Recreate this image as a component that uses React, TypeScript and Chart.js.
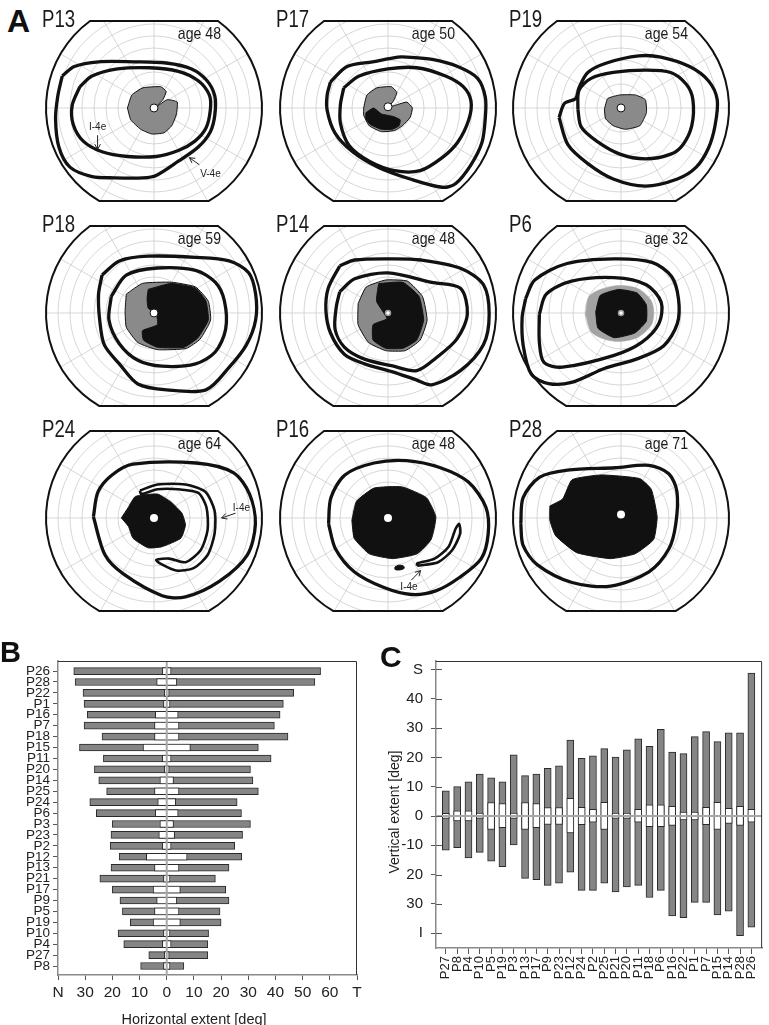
import React, { useEffect, useRef } from 'react';
import { Chart, registerables } from 'chart.js';

Chart.register(...registerables);

type Pt = [number, number];
const FONT = '"Liberation Sans", Arial, Helvetica, sans-serif';
Chart.defaults.font.family = FONT;
Chart.defaults.color = '#222';

// ---------------- Panel A data (visual field isopters, degrees) ----------------
const plotNames = ['P13', 'P17', 'P19', 'P18', 'P14', 'P6', 'P24', 'P16', 'P28'];
const plotAges = [48, 50, 54, 59, 48, 32, 64, 48, 71];

const p13Outer: Pt[] = [[-83, 27], [-72, 35], [-50, 39], [-18, 39], [11, 38], [34, 33], [48, 23], [55, 10], [55, -6], [51, -20], [40, -33], [22, -45], [2, -57], [-10, -59], [-36, -59], [-56, -58], [-76, -50], [-86, -33], [-89, -9], [-87, 10]];
const p13Inner: Pt[] = [[-67, 18], [-56, 27], [-33, 33], [-4, 34], [22, 31], [40, 23], [50, 11], [51, -1], [47, -17], [37, -28], [22, -36], [2, -41], [-24, -41], [-47, -37], [-64, -28], [-73, -14], [-74, 2]];
const p13Gray: Pt[] = [[-24, 0], [-20, 11], [-10, 17], [6, 18], [11, 14], [8, 7], [2, 1], [12, 7], [21, 5], [20, -6], [16, -15], [9, -21], [-2, -22], [-12, -18], [-21, -10]];

const p17Outer: Pt[] = [[-52, 22], [-37, 35], [-14, 39], [9, 43], [17, 43], [40, 41], [63, 35], [81, 25], [88, 9], [88, -8], [85, -29], [75, -48], [61, -64], [49, -67], [20, -60], [-9, -50], [-32, -37], [-48, -21], [-55, -2], [-55, 11]];
const p17Inner: Pt[] = [[-40, 17], [-26, 27], [0, 33], [26, 34], [52, 27], [68, 18], [75, 6], [73, -10], [63, -29], [49, -42], [29, -53], [6, -53], [-17, -45], [-35, -32], [-43, -13], [-43, 3]];
const p17Gray: Pt[] = [[-22, 0], [-19, 11], [-10, 17], [3, 18], [8, 13], [5, 6], [1, 1], [9, 3], [17, 5], [22, 0], [20, -8], [13, -15], [6, -19], [-6, -20], [-17, -15], [-22, -6]];
const p17Black: Pt[] = [[-20, -4], [-13, 0], [-6, -5], [4, -7], [11, -10], [10, -15], [4, -18], [-6, -18], [-16, -14], [-20, -9]];

const p19Outer: Pt[] = [[-56, -8], [-51, 4], [-41, 8], [-38, 17], [-30, 30], [-13, 38], [16, 44], [36, 43], [62, 35], [79, 23], [87, 7], [85, -15], [79, -34], [68, -50], [51, -60], [22, -66], [-7, -60], [-30, -47], [-48, -31]];
const p19Inner: Pt[] = [[-39, -1], [-38, 15], [-27, 25], [-7, 30], [22, 32], [45, 30], [59, 20], [65, 7], [64, -15], [56, -31], [45, -39], [22, -43], [-1, -39], [-22, -28], [-36, -16]];
const p19Gray: Pt[] = [[-15, -1], [-12, 8], [-1, 11], [13, 11], [22, 7], [23, -4], [17, -15], [4, -18], [-7, -15], [-14, -9]];

const p18Outer: Pt[] = [[-45, 32], [-30, 44], [-5, 48], [36, 47], [65, 44], [82, 34], [88, 16], [88, -6], [80, -27], [65, -46], [45, -65], [11, -65], [-14, -60], [-30, -43], [-43, -27], [-47, -6], [-48, 16]];
const p18Inner: Pt[] = [[-37, 14], [-24, 32], [3, 38], [36, 36], [53, 26], [61, 10], [62, -14], [53, -33], [36, -43], [7, -45], [-14, -40], [-30, -26], [-39, -6]];
const p18Gray: Pt[] = [[-24, 16], [-10, 25], [15, 26], [36, 22], [47, 10], [49, -6], [40, -22], [28, -30], [3, -31], [-14, -25], [-24, -12], [-25, 2]];
const p18Black: Pt[] = [[-5, 20], [15, 25], [36, 21], [45, 10], [47, -6], [38, -21], [26, -29], [3, -29], [-9, -23], [-10, -15], [3, -10], [2, -1], [-5, 4], [-6, 12]];

const p14Outer: Pt[] = [[-42, 40], [-29, 45], [4, 46], [29, 45], [63, 38], [83, 24], [88, -1], [83, -27], [63, -49], [38, -61], [25, -57], [4, -50], [-21, -43], [-38, -35], [-50, -17], [-54, 2], [-52, 21]];
const p14Inner: Pt[] = [[-42, 18], [-29, 29], [0, 34], [38, 26], [63, 21], [69, -1], [60, -22], [42, -38], [25, -49], [4, -45], [-21, -39], [-38, -29], [-46, -14], [-45, 5]];
const p14Gray: Pt[] = [[-26, 8], [-19, 22], [-2, 28], [17, 27], [30, 14], [34, -6], [28, -23], [15, -32], [-2, -32], [-17, -25], [-26, -10]];
const p14Black: Pt[] = [[-8, 25], [13, 26], [27, 14], [31, -6], [25, -23], [13, -30], [-2, -30], [-13, -23], [-13, -10], [-1, -5], [-5, 2], [-10, 10], [-9, 20]];

const p6Outer: Pt[] = [[-83, 12], [-75, 28], [-47, 42], [-6, 46], [27, 43], [44, 31], [50, 12], [49, -9], [37, -28], [14, -39], [-14, -47], [-43, -59], [-63, -60], [-78, -52], [-85, -28], [-86, -4]];
const p6Inner: Pt[] = [[-71, -1], [-65, 16], [-43, 27], [-6, 30], [22, 24], [35, 9], [33, -9], [18, -25], [-6, -36], [-51, -46], [-67, -42], [-71, -25]];
const p6Light: Pt[] = [[-31, -1], [-27, 15], [-6, 23], [14, 21], [27, 9], [27, -9], [14, -21], [-6, -24], [-25, -17]];
const p6Black: Pt[] = [[-22, 1], [-18, 15], [-2, 20], [14, 17], [22, 7], [22, -7], [12, -17], [-6, -21], [-20, -13]];

const p24Outer: Pt[] = [[-52, 1], [-48, 22], [-36, 36], [-18, 45], [36, 46], [68, 38], [82, 20], [87, -5], [80, -31], [56, -53], [27, -66], [7, -65], [-26, -47], [-42, -31]];
const p24Crescent: Pt[] = [[-12, 23], [3, 28], [27, 28], [44, 22], [52, 6], [52, -13], [46, -31], [34, -42], [19, -44], [5, -38], [2, -35], [13, -34], [27, -37], [40, -27], [46, -10], [45, 9], [38, 21], [21, 24], [3, 24], [-11, 20]];
const p24Black: Pt[] = [[-28, 0], [-22, 9], [-16, 18], [3, 20], [15, 13], [24, 4], [27, -6], [23, -17], [7, -24], [-5, -25], [-18, -17], [-22, -7]];

const p16Outer: Pt[] = [[-51, -5], [-49, 17], [-37, 36], [-12, 46], [16, 48], [45, 42], [69, 30], [84, 9], [86, -13], [80, -34], [61, -50], [41, -61], [20, -64], [-4, -58], [-29, -45], [-45, -26]];
const p16Black: Pt[] = [[-31, -2], [-27, 14], [-12, 25], [12, 26], [33, 17], [41, 1], [37, -18], [25, -30], [4, -34], [-16, -30], [-29, -17]];
const p16Crescent: Pt[] = [[25, -40], [43, -37], [55, -27], [62, -13], [61, -5], [58, -9], [52, -24], [40, -34], [25, -38]];
const p16Blob: Pt[] = [[6, -41], [9, -39.5], [13, -40], [14, -42], [10, -43.5], [6, -43]];

const p28Outer: Pt[] = [[-86, -5], [-84, 17], [-70, 34], [-46, 40], [-5, 42], [24, 44], [41, 37], [48, 22], [47, -5], [41, -26], [24, -45], [-9, -57], [-42, -54], [-72, -39], [-84, -23]];
const p28Black: Pt[] = [[-61, 10], [-50, 16], [-42, 32], [-17, 36], [16, 33], [26, 24], [31, 1], [28, -18], [12, -30], [-9, -34], [-38, -29], [-56, -15], [-61, -2]];

// ---------------- Panel B data ----------------
const bNames = ['P26', 'P28', 'P22', 'P1', 'P16', 'P7', 'P18', 'P15', 'P11', 'P20', 'P14', 'P25', 'P24', 'P6', 'P3', 'P23', 'P2', 'P12', 'P13', 'P21', 'P17', 'P9', 'P5', 'P19', 'P10', 'P4', 'P27', 'P8'];
const bNasal = [34.2, 33.7, 30.8, 30.4, 29.2, 30.4, 23.8, 32.1, 23.3, 26.6, 25.0, 22.1, 28.3, 25.9, 20.0, 20.5, 20.8, 17.5, 20.5, 24.6, 20.0, 17.2, 16.3, 13.4, 17.9, 15.8, 6.6, 9.6];
const bTemporal = [56.6, 54.5, 46.7, 42.9, 41.7, 39.6, 44.6, 33.7, 38.4, 30.8, 31.7, 33.7, 25.9, 27.5, 30.8, 27.9, 25.0, 27.6, 22.9, 17.9, 21.7, 22.9, 19.6, 20.0, 15.4, 15.1, 15.1, 6.3];
const bCentral = [1.6, 3.7, 0.9, 1.2, 4.2, 4.5, 4.5, 8.7, 1.6, 0.9, 2.5, 4.5, 3.3, 4.2, 2.5, 2.9, 1.6, 7.5, 4.5, 1.2, 5.0, 3.7, 4.5, 5.0, 1.2, 1.6, 0.9, 1.2];
const bTicks = [-40, -30, -20, -10, 0, 10, 20, 30, 40, 50, 60, 70];

// ---------------- Panel C data ----------------
const cNames = ['P27', 'P8', 'P4', 'P10', 'P5', 'P19', 'P3', 'P13', 'P17', 'P9', 'P23', 'P12', 'P24', 'P2', 'P25', 'P21', 'P20', 'P11', 'P18', 'P6', 'P16', 'P22', 'P1', 'P7', 'P15', 'P14', 'P28', 'P26'];
const cSuperior = [8.6, 10.0, 11.7, 14.3, 13.0, 11.7, 20.9, 13.8, 14.3, 16.3, 17.1, 25.9, 19.7, 20.5, 23.0, 20.1, 22.6, 26.3, 23.8, 29.6, 21.8, 21.3, 27.1, 28.8, 25.4, 28.4, 28.4, 48.8];
const cInferior = [11.7, 10.8, 14.3, 12.4, 15.4, 17.3, 9.9, 21.3, 21.7, 23.7, 22.9, 19.2, 25.4, 25.4, 22.9, 25.9, 24.2, 23.7, 27.8, 25.4, 34.1, 34.7, 29.5, 29.5, 33.8, 32.5, 40.8, 37.9];
const cCentralUp = [0.9, 1.8, 1.8, 1.0, 4.6, 4.2, 1.0, 4.6, 4.2, 2.9, 2.9, 6.0, 3.0, 2.3, 4.7, 1.0, 1.0, 2.3, 3.8, 3.8, 3.3, 1.3, 1.3, 3.0, 4.7, 2.6, 3.3, 2.3];
const cCentralDown = [0.8, 1.7, 1.7, 0.8, 4.6, 4.0, 0.8, 4.6, 4.0, 2.9, 2.9, 5.8, 3.0, 2.1, 4.6, 0.8, 0.8, 2.1, 3.6, 3.6, 3.2, 1.3, 1.3, 3.0, 4.6, 2.5, 3.2, 2.1];
const cTicks = [50, 40, 30, 20, 10, 0, -10, -20, -30, -40];

// ---------------- Field specs ----------------
interface Note { text: string; at: Pt; from: Pt; to: Pt }
interface FieldSpec {
  isopters: Pt[][]; crescents: Pt[][]; light: Pt[][]; gray: Pt[][]; black: Pt[][]; blobs: Pt[][];
  fix: Pt; fixKind: number; notes: Note[];
}
const fields: FieldSpec[] = [
  { isopters: [p13Outer, p13Inner], crescents: [], light: [], gray: [p13Gray], black: [], blobs: [], fix: [0, 0], fixKind: 0,
    notes: [{ text: 'I-4e', at: [-51, -16], from: [-51, -23], to: [-51, -35] }, { text: 'V-4e', at: [51, -56], from: [41, -48], to: [32, -42] }] },
  { isopters: [p17Outer, p17Inner], crescents: [], light: [], gray: [p17Gray], black: [p17Black], blobs: [], fix: [0, 1], fixKind: 0, notes: [] },
  { isopters: [p19Outer, p19Inner], crescents: [], light: [], gray: [p19Gray], black: [], blobs: [], fix: [0, 0], fixKind: 0, notes: [] },
  { isopters: [p18Outer, p18Inner], crescents: [], light: [], gray: [p18Gray], black: [p18Black], blobs: [], fix: [0, 0], fixKind: 0, notes: [] },
  { isopters: [p14Outer, p14Inner], crescents: [], light: [], gray: [p14Gray], black: [p14Black], blobs: [], fix: [0, 0], fixKind: 2, notes: [] },
  { isopters: [p6Outer, p6Inner], crescents: [], light: [p6Light], gray: [], black: [p6Black], blobs: [], fix: [0, 0], fixKind: 2, notes: [] },
  { isopters: [p24Outer], crescents: [p24Crescent], light: [], gray: [], black: [p24Black], blobs: [], fix: [0, 0], fixKind: 1,
    notes: [{ text: 'I-4e', at: [75, 8], from: [70, 4], to: [58, 0] }] },
  { isopters: [p16Outer], crescents: [p16Crescent], light: [], gray: [], black: [p16Black], blobs: [p16Blob], fix: [0, 0], fixKind: 1,
    notes: [{ text: 'I-4e', at: [18, -58], from: [20, -52], to: [28, -44] }] },
  { isopters: [p28Outer], crescents: [], light: [], gray: [], black: [p28Black], blobs: [], fix: [0, 3], fixKind: 1, notes: [] },
];

// ---------------- Layout ----------------
const colCenters = [154, 388, 621];
const rowCenters = [108, 313, 518];
const rowKx = [1.156, 1.207, 1.207];
const KY = 1.244;
const CW = 232, CH = 205, CY = 103;
const R = 108;

const closed = (pts: Pt[]) => {
  const a = pts.map(([x, y]) => ({ x, y }));
  a.push({ x: pts[0][0], y: pts[0][1] });
  return a;
};

function fieldDatasets(f: FieldSpec) {
  const ds: any[] = [];
  const area = (pts: Pt[], bg: string, bc: string, bw: number, t: number) => ({
    data: closed(pts), showLine: true, fill: 'shape', backgroundColor: bg, borderColor: bc,
    borderWidth: bw, pointRadius: 0, tension: t,
  });
  f.light.forEach((p) => ds.push(area(p, '#a3a3a3', '#a3a3a3', 0.5, 0.3)));
  f.gray.forEach((p) => ds.push(area(p, '#8a8a8a', '#111', 1, 0.15)));
  f.black.forEach((p) => ds.push(area(p, '#111', '#111', 1, 0.15)));
  f.blobs.forEach((p) => ds.push(area(p, '#111', '#111', 1, 0.3)));
  f.isopters.forEach((p) => ds.push({
    data: closed(p), showLine: true, fill: false, borderColor: '#111', borderWidth: 3.3,
    pointRadius: 0, tension: 0.3, borderJoinStyle: 'round',
  }));
  f.crescents.forEach((p) => ds.push({
    data: closed(p), showLine: true, fill: false, borderColor: '#111', borderWidth: 2.6,
    pointRadius: 0, tension: 0.25, borderJoinStyle: 'round',
  }));
  const kinds = [
    { r: 4, bc: '#111', bw: 1 },
    { r: 4, bc: '#fff', bw: 0 },
    { r: 2.5, bc: '#999', bw: 1.5 },
  ];
  const k = kinds[f.fixKind];
  ds.push({
    data: [{ x: f.fix[0], y: f.fix[1] }], showLine: false, pointRadius: k.r,
    pointBackgroundColor: '#fff', pointBorderColor: k.bc, pointBorderWidth: k.bw,
  });
  // Chart.js paints the first dataset on top, so list the top-most layer first.
  return ds.reverse();
}

function outlinePath(ctx: CanvasRenderingContext2D, x0: number, y0: number) {
  const at = Math.asin(87 / R), ab = Math.asin(93 / R);
  ctx.beginPath();
  ctx.arc(x0, y0, R, -at, ab, false);
  ctx.arc(x0, y0, R, Math.PI - ab, Math.PI + at, false);
  ctx.closePath();
}

function drawNarrow(ctx: CanvasRenderingContext2D, text: string, x: number, y: number, size: number, align: CanvasTextAlign, squeeze: number) {
  ctx.save();
  ctx.translate(x, y);
  ctx.scale(squeeze, 1);
  ctx.font = `${size}px ${FONT}`;
  ctx.textAlign = align;
  ctx.textBaseline = 'alphabetic';
  ctx.fillStyle = '#1a1a1a';
  ctx.fillText(text, 0, 0);
  ctx.restore();
}

function polarPlugin(idx: number) {
  const f = fields[idx];
  return {
    id: 'polarField' + idx,
    beforeDatasetsDraw(chart: any) {
      const { ctx } = chart;
      const x0 = chart.scales.x.getPixelForValue(0);
      const y0 = chart.scales.y.getPixelForValue(0);
      ctx.save();
      outlinePath(ctx, x0, y0);
      ctx.clip();
      ctx.strokeStyle = '#cdcdcd';
      ctx.lineWidth = 0.8;
      for (let i = 1; i <= 8; i++) {
        ctx.beginPath();
        ctx.arc(x0, y0, (R * i) / 9, 0, Math.PI * 2);
        ctx.stroke();
      }
      for (let a = 0; a < 360; a += 30) {
        const t = (a * Math.PI) / 180;
        ctx.beginPath();
        ctx.moveTo(x0, y0);
        ctx.lineTo(x0 + R * Math.cos(t), y0 - R * Math.sin(t));
        ctx.stroke();
      }
      ctx.restore();
    },
    afterDatasetsDraw(chart: any) {
      const { ctx } = chart;
      const xs = chart.scales.x, ys = chart.scales.y;
      const x0 = xs.getPixelForValue(0);
      const y0 = ys.getPixelForValue(0);
      ctx.save();
      outlinePath(ctx, x0, y0);
      ctx.strokeStyle = '#111';
      ctx.lineWidth = 2;
      ctx.stroke();
      ctx.restore();
      drawNarrow(ctx, plotNames[idx], x0 - 112, y0 - 81, 23, 'left', 0.81);
      drawNarrow(ctx, 'age ' + plotAges[idx], x0 + 67, y0 - 69, 17, 'right', 0.83);
      for (const n of f.notes) {
        ctx.save();
        ctx.font = `10px ${FONT}`;
        ctx.textAlign = 'center';
        ctx.textBaseline = 'middle';
        ctx.fillStyle = '#222';
        ctx.fillText(n.text, xs.getPixelForValue(n.at[0]), ys.getPixelForValue(n.at[1]));
        const fx = xs.getPixelForValue(n.from[0]), fy = ys.getPixelForValue(n.from[1]);
        const ex = xs.getPixelForValue(n.to[0]), ey = ys.getPixelForValue(n.to[1]);
        const ang = Math.atan2(ey - fy, ex - fx);
        const h = 6;
        ctx.strokeStyle = '#222';
        ctx.lineWidth = 1;
        ctx.beginPath();
        ctx.moveTo(fx, fy);
        ctx.lineTo(ex, ey);
        ctx.moveTo(ex - h * Math.cos(ang - 0.5), ey - h * Math.sin(ang - 0.5));
        ctx.lineTo(ex, ey);
        ctx.lineTo(ex - h * Math.cos(ang + 0.5), ey - h * Math.sin(ang + 0.5));
        ctx.stroke();
        ctx.restore();
      }
    },
  };
}

function FieldPlot({ idx }: { idx: number }) {
  const ref = useRef<HTMLCanvasElement>(null);
  const col = idx % 3, row = Math.floor(idx / 3);
  useEffect(() => {
    const kx = rowKx[row];
    const chart = new Chart(ref.current as HTMLCanvasElement, {
      type: 'scatter',
      data: { datasets: fieldDatasets(fields[idx]) },
      options: {
        animation: false, responsive: false, devicePixelRatio: 1, events: [],
        layout: { padding: 0 },
        plugins: { legend: { display: false }, tooltip: { enabled: false } },
        scales: {
          x: { type: 'linear', display: false, min: -CW / 2 / kx, max: CW / 2 / kx },
          y: { type: 'linear', display: false, min: -(CH - CY) / KY, max: CY / KY },
        },
      } as any,
      plugins: [polarPlugin(idx)],
    });
    return () => chart.destroy();
  }, [idx]);
  return (
    <canvas ref={ref} width={CW} height={CH}
      style={{ position: 'absolute', left: colCenters[col] - CW / 2, top: rowCenters[row] - CY, width: CW, height: CH }} />
  );
}

// ---------------- Panel B ----------------
function HorizontalChart() {
  const ref = useRef<HTMLCanvasElement>(null);
  useEffect(() => {
    const frame = {
      id: 'bFrame',
      afterDatasetsDraw(chart: any) {
        const { ctx, chartArea: a } = chart;
        const x0 = chart.scales.x.getPixelForValue(0);
        ctx.save();
        ctx.strokeStyle = '#a8a8a8';
        ctx.lineWidth = 2;
        ctx.beginPath();
        ctx.moveTo(x0, a.top);
        ctx.lineTo(x0, a.bottom);
        ctx.stroke();
        ctx.strokeStyle = '#333';
        ctx.lineWidth = 1;
        ctx.beginPath();
        ctx.moveTo(a.left, a.top + 0.5);
        ctx.lineTo(a.right - 0.5, a.top + 0.5);
        ctx.lineTo(a.right - 0.5, a.bottom);
        ctx.stroke();
        ctx.font = `14.5px ${FONT}`;
        ctx.fillStyle = '#222';
        ctx.textAlign = 'center';
        ctx.textBaseline = 'alphabetic';
        ctx.fillText('Horizontal extent [deg]', 194, 383.5);
        ctx.restore();
      },
    };
    const chart = new Chart(ref.current as HTMLCanvasElement, {
      type: 'bar',
      data: {
        datasets: [
          {
            data: bNames.map((_, i) => ({ x: [-bNasal[i], bTemporal[i]], y: i })),
            backgroundColor: '#858585', borderColor: '#2a2a2a', borderWidth: 1, borderSkipped: false,
            barThickness: 7, grouped: false, order: 2,
          },
          {
            data: bNames.map((_, i) => ({ x: [-bCentral[i], bCentral[i]], y: i })),
            backgroundColor: '#ffffff', borderColor: '#2a2a2a', borderWidth: 1, borderSkipped: false,
            barThickness: 7, grouped: false, order: 1,
          },
        ],
      },
      options: {
        indexAxis: 'y', animation: false, responsive: false, devicePixelRatio: 1, events: [],
        layout: { padding: { top: 21, right: 12, left: 0, bottom: 0 } },
        plugins: { legend: { display: false }, tooltip: { enabled: false } },
        scales: {
          x: {
            type: 'linear', position: 'bottom', min: -40, max: 70, offset: false,
            afterFit: (s: any) => { s.height = 50; },
            afterBuildTicks: (s: any) => { s.ticks = bTicks.map((v) => ({ value: v })); },
            ticks: {
              autoSkip: false, maxRotation: 0, padding: 3, color: '#222', font: { size: 15.5 },
              callback: (v: any) => (v === -40 ? 'N' : v === 70 ? 'T' : String(Math.abs(v))),
            },
            grid: { drawOnChartArea: false, drawTicks: true, tickLength: 5, tickColor: '#555', offset: false },
            border: { color: '#8a8a8a', width: 1.5 },
          },
          y: {
            type: 'linear', min: -0.92, max: 27.82, reverse: true, offset: false,
            afterFit: (s: any) => { s.width = 58; },
            afterBuildTicks: (s: any) => { s.ticks = bNames.map((_, i) => ({ value: i })); },
            ticks: { autoSkip: false, padding: 3, color: '#222', font: { size: 13.5 }, callback: (v: any) => bNames[v] },
            grid: { drawOnChartArea: false, drawTicks: true, tickLength: 5, tickColor: '#555', offset: false },
            border: { color: '#8a8a8a', width: 1.5 },
          },
        },
      } as any,
      plugins: [frame],
    });
    return () => chart.destroy();
  }, []);
  return <canvas ref={ref} width={369} height={385} style={{ position: 'absolute', left: 0, top: 640, width: 369, height: 385 }} />;
}

// ---------------- Panel C ----------------
function VerticalChart() {
  const ref = useRef<HTMLCanvasElement>(null);
  useEffect(() => {
    const frame = {
      id: 'cFrame',
      afterDatasetsDraw(chart: any) {
        const { ctx, chartArea: a } = chart;
        const ys = chart.scales.y;
        const y0 = ys.getPixelForValue(0);
        ctx.save();
        ctx.strokeStyle = '#a8a8a8';
        ctx.lineWidth = 2;
        ctx.beginPath();
        ctx.moveTo(a.left, y0);
        ctx.lineTo(a.right, y0);
        ctx.stroke();
        ctx.strokeStyle = '#333';
        ctx.lineWidth = 1;
        ctx.beginPath();
        ctx.moveTo(a.left, a.top + 0.5);
        ctx.lineTo(a.right - 0.5, a.top + 0.5);
        ctx.lineTo(a.right - 0.5, a.bottom);
        ctx.stroke();
        ctx.strokeStyle = '#555';
        ctx.lineWidth = 1;
        for (const v of cTicks) {
          const p = Math.round(ys.getPixelForValue(v)) + 0.5;
          ctx.beginPath();
          ctx.moveTo(a.left, p);
          ctx.lineTo(a.left + 6, p);
          ctx.stroke();
        }
        ctx.translate(25, 172);
        ctx.rotate(-Math.PI / 2);
        ctx.font = `14px ${FONT}`;
        ctx.fillStyle = '#222';
        ctx.textAlign = 'center';
        ctx.textBaseline = 'middle';
        ctx.fillText('Vertical extent [deg]', 0, 0);
        ctx.restore();
      },
    };
    const chart = new Chart(ref.current as HTMLCanvasElement, {
      type: 'bar',
      data: {
        datasets: [
          {
            data: cNames.map((_, i) => ({ x: i, y: [-cInferior[i], cSuperior[i]] })),
            backgroundColor: '#858585', borderColor: '#2a2a2a', borderWidth: 1, borderSkipped: false,
            barThickness: 7, grouped: false, order: 2,
          },
          {
            data: cNames.map((_, i) => ({ x: i, y: [-cCentralDown[i], cCentralUp[i]] })),
            backgroundColor: '#ffffff', borderColor: '#2a2a2a', borderWidth: 1, borderSkipped: false,
            barThickness: 7, grouped: false, order: 1,
          },
        ],
      },
      options: {
        animation: false, responsive: false, devicePixelRatio: 1, events: [],
        layout: { padding: { top: 21, right: 1, left: 0, bottom: 0 } },
        plugins: { legend: { display: false }, tooltip: { enabled: false } },
        scales: {
          x: {
            type: 'linear', min: -0.87, max: 27.95, offset: false,
            afterFit: (s: any) => { s.height = 77; },
            afterBuildTicks: (s: any) => { s.ticks = cNames.map((_, i) => ({ value: i })); },
            ticks: {
              autoSkip: false, minRotation: 90, maxRotation: 90, padding: 2, color: '#222', font: { size: 13 },
              callback: (v: any) => cNames[v],
            },
            grid: { drawOnChartArea: false, drawTicks: true, tickLength: 6, tickColor: '#555', offset: false },
            border: { color: '#8a8a8a', width: 1.5 },
          },
          y: {
            type: 'linear', min: -45.05, max: 52.9, offset: false,
            afterFit: (s: any) => { s.width = 66; },
            afterBuildTicks: (s: any) => { s.ticks = cTicks.map((v) => ({ value: v })); },
            ticks: {
              autoSkip: false, padding: 8, color: '#222', font: { size: 15 },
              callback: (v: any) => (v === 50 ? 'S' : v === -40 ? 'I' : v === -10 ? '-10' : String(Math.abs(v))),
            },
            grid: { drawOnChartArea: false, drawTicks: true, tickLength: 5, tickColor: '#555', offset: false },
            border: { color: '#8a8a8a', width: 1.5 },
          },
        },
      } as any,
      plugins: [frame],
    });
    return () => chart.destroy();
  }, []);
  return <canvas ref={ref} width={399} height={385} style={{ position: 'absolute', left: 370, top: 640, width: 399, height: 385 }} />;
}

const panelLetter = (text: string, left: number, baseline: number, size: number) => (
  <div style={{
    position: 'absolute', left, top: baseline - 0.8465 * size, fontFamily: FONT, fontWeight: 700,
    fontSize: size, lineHeight: 1, color: '#111',
  }}>{text}</div>
);

export default function App() {
  return (
    <div style={{ position: 'absolute', left: 0, top: 0, width: 769, height: 1025, background: '#fff', overflow: 'hidden' }}>
      {fields.map((_, i) => <FieldPlot key={i} idx={i} />)}
      <HorizontalChart />
      <VerticalChart />
      {panelLetter('A', 7, 32, 32)}
      {panelLetter('B', 0, 663, 29)}
      {panelLetter('C', 380, 667, 30)}
    </div>
  );
}
